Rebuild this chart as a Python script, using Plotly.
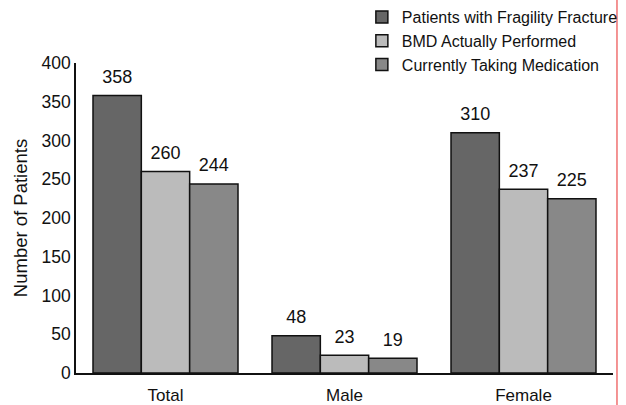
import plotly.graph_objects as go

categories = ["Total", "Male", "Female"]
series_names = [
    "Patients with Fragility Fracture",
    "BMD Actually Performed",
    "Currently Taking Medication",
]
fracture = [358, 48, 310]
bmd_performed = [260, 23, 237]
taking_medication = [244, 19, 225]
series_values = [fracture, bmd_performed, taking_medication]
series_colors = ["#666666", "#bbbbbb", "#888888"]

FONT = "Liberation Sans, Arial, sans-serif"
LABEL_GAP = 7  # extra room (data units) between a bar top and its value label

fig = go.Figure()
for i, (name, vals, color) in enumerate(zip(series_names, series_values, series_colors)):
    group = f"g{i}"
    fig.add_trace(go.Bar(
        name=name,
        x=categories,
        y=vals,
        offsetgroup=group,
        marker=dict(color=color, line=dict(color="#111111", width=1.5)),
    ))
    # transparent spacer sitting on each bar, carrying the value label above it
    fig.add_trace(go.Bar(
        x=categories,
        y=[LABEL_GAP] * len(vals),
        base=vals,
        offsetgroup=group,
        text=[str(v) for v in vals],
        textposition="outside",
        textfont=dict(size=18, color="#111111", family=FONT),
        cliponaxis=False,
        marker=dict(color="rgba(0,0,0,0)", line=dict(width=0)),
        showlegend=False,
        hoverinfo="skip",
    ))

fig.update_layout(
    width=626,
    height=405,
    margin=dict(l=76, r=13, t=63, b=32, autoexpand=False),
    paper_bgcolor="white",
    plot_bgcolor="white",
    barmode="group",
    bargap=0.19,
    bargroupgap=0,
    font=dict(family=FONT, size=17, color="#111111"),
    showlegend=True,
    legend=dict(
        xref="container", yref="container",
        x=0.995, xanchor="right",
        y=1.012, yanchor="top",
        font=dict(size=16, family=FONT, color="#111111"),
        bgcolor="rgba(0,0,0,0)",
        itemwidth=30,
        tracegroupgap=0,
    ),
    xaxis=dict(
        showline=True, linecolor="#111111", linewidth=1.5,
        ticks="", showgrid=False,
        tickfont=dict(size=17),
        ticklabelstandoff=6,
    ),
    yaxis=dict(
        range=[0, 400], dtick=50,
        showline=True, linecolor="#111111", linewidth=1.5,
        ticks="", showgrid=False, zeroline=False,
        tickfont=dict(size=17.5),
        title=dict(text="Number of Patients", font=dict(size=18.5), standoff=9),
    ),
)

# thin red rule along the right edge
fig.add_shape(
    type="line", xref="paper", yref="paper", layer="above",
    x0=1.0074, x1=1.0074, y0=-0.11, y1=1.21,
    line=dict(color="#f07070", width=1.5),
)

fig.write_html("out.html")
